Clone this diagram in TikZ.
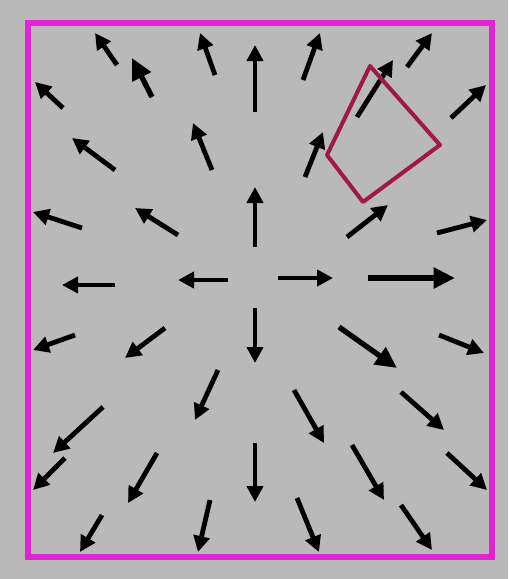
\documentclass[tikz,border=0pt]{standalone}
\usetikzlibrary{arrows.meta}

\definecolor{bggray}{RGB}{185,185,185}
\definecolor{framemag}{RGB}{226,36,210}
\definecolor{cellred}{RGB}{160,24,72}

\tikzset{
  vec/.style={line width=3.6pt, -{Triangle[length=12pt,width=12pt]}},
  bigvec/.style={line width=4pt, -{Triangle[length=16pt,width=15pt]}},
  frame/.style={draw=framemag, line width=5pt},
  cell/.style={draw=cellred, line width=3pt, line join=round}
}

\begin{document}
\begin{tikzpicture}[x=0.75pt,y=-0.75pt]
\fill[bggray] (0,0) rectangle (508,579);
\useasboundingbox (0,0) rectangle (508,579);

% FRAME
\coordinate (fa) at (28,23);
\coordinate (fb) at (492,557);
\draw[frame] (fa) rectangle (fb);

% ARROWS
\foreach \n/\tx/\ty/\hx/\hy in {
   1/117/65/95/33,    3/63/108/35/82,    4/215/75/200/33,
   5/255/112/255/45,  6/303/80/320/33,   7/407/67/432/33,
   8/357/117/393/60,  9/451/118/486/85, 10/115/170/72/138,
  11/212/170/193/123, 12/305/177/323/132, 13/82/228/33/212,
  14/178/235/135/208, 15/255/247/255/187, 16/347/237/388/205,
  17/437/233/487/220, 18/115/285/62/285, 19/228/280/178/280,
  20/278/278/333/278, 22/75/335/33/350, 23/165/328/125/358,
  24/255/308/255/363, 26/439/335/484/353, 27/218/370/195/420,
  28/294/390/324/443, 29/401/392/444/430, 30/103/407/53/453,
  31/65/458/33/490, 32/157/453/128/503, 33/255/443/255/502,
  34/352/445/384/500, 35/447/453/487/490, 36/102/515/80/552,
  37/210/500/198/552, 38/297/498/319/552, 39/401/505/432/550}
{
  \coordinate (t\n) at (\tx,\ty);
  \coordinate (h\n) at (\hx,\hy);
  \draw[vec] (t\n) -- (h\n);
}

% big ones
\foreach \n/\tx/\ty/\hx/\hy in {2/152/97/132/58, 21/368/278/455/278, 25/339/327/397/368}
{
  \coordinate (t\n) at (\tx,\ty);
  \coordinate (h\n) at (\hx,\hy);
  \draw[bigvec] (t\n) -- (h\n);
}

% CELL
\coordinate (q1) at (370,66);
\coordinate (q2) at (440,145);
\coordinate (q3) at (363,202);
\coordinate (q4) at (327,155);
\draw[cell] (q1) -- (q2) -- (q3) -- (q4) -- cycle;

\end{tikzpicture}
\end{document}
